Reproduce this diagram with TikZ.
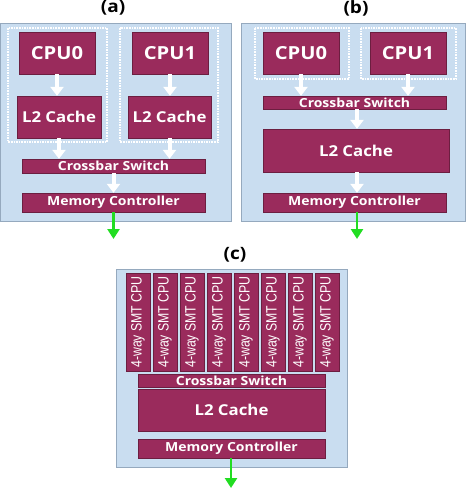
\documentclass[tikz,border=0pt]{standalone}
\usepackage{fontspec}
\setmainfont{Open Sans}
\newfontfamily\widefont[FakeStretch=1.12]{Open Sans}
\newfontfamily\narrowfont[FakeStretch=0.82]{Liberation Sans}
\usetikzlibrary{arrows.meta}
\definecolor{maroon}{HTML}{9A2B5C}
\definecolor{panelblue}{HTML}{C9DDF0}
\definecolor{panelline}{HTML}{95A9BE}
\definecolor{arrowgreen}{HTML}{22DD22}
\begin{document}
\begin{tikzpicture}[x=1pt,y=-1pt,
	panel/.style={fill=panelblue,draw=panelline,line width=0.8pt},
	group/.style={draw=white,densely dotted,line width=1.6pt},
	unit/.style={fill=maroon,draw=maroon!70!black,line width=0.3pt,text=white,inner sep=0pt},
	cpubox/.style={unit,minimum width=76pt,minimum height=42pt,font=\widefont\bfseries\fontsize{18}{18}\selectfont},
	cachebox/.style={cpubox,font=\widefont\bfseries\fontsize{15}{15}\selectfont},
	thinbar/.style={unit,font=\widefont\bfseries\fontsize{12.5}{12.5}\selectfont},
	smtbox/.style={unit,minimum width=98pt,minimum height=24pt,rotate=90,font=\narrowfont\fontsize{15}{15}\selectfont},
	warrow/.style={draw=white,line width=4pt,-{Triangle[width=13pt,length=9pt]}},
	garrow/.style={draw=arrowgreen,line width=2.6pt,-{Triangle[width=12pt,length=10pt]}},
	caption/.style={font=\widefont\bfseries\fontsize{17}{17}\selectfont}]

	\useasboundingbox (0,0) rectangle (474,489);

	% (a) private L2 per core
	\node [caption] (capa) at (113,8) {(a)};
	\draw [panel] (0.5,23) rectangle (231,221);
	\draw [group] (8,28) rectangle (107,142);
	\draw [group] (120,28) rectangle (218,142);
	\node [cpubox] (cpu0a) at (57,53) {CPU0};
	\node [cpubox] (cpu1a) at (170,53) {CPU1};
	\node [cachebox,minimum width=84pt] (l2a0) at (59,117) {L2 Cache};
	\node [cachebox,minimum width=83pt] (l2a1) at (169.5,117) {L2 Cache};
	\node [thinbar,minimum width=183pt,minimum height=14pt] (xbara) at (113.5,166) {Crossbar Switch};
	\node [thinbar,minimum width=183pt,minimum height=19pt] (mca) at (113.5,202.5) {Memory Controller};
	\coordinate (outa) at (113.5,239);

	\draw [warrow] (cpu0a.south) -- (cpu0a.south |- l2a0.north);
	\draw [warrow] (cpu1a.south) -- (cpu1a.south |- l2a1.north);
	\draw [warrow] (l2a0.south) -- (l2a0.south |- xbara.north);
	\draw [warrow] (l2a1.south) -- (l2a1.south |- xbara.north);
	\draw [warrow] (xbara.south) -- (mca.north);
	\draw [garrow] (mca.south) -- (outa);

	% (b) shared L2 behind the crossbar
	\node [caption] (capb) at (356,8) {(b)};
	\draw [panel] (241,23) rectangle (465,221);
	\draw [group] (255,28) rectangle (349,79);
	\draw [group] (361,28) rectangle (456,79);
	\node [cpubox] (cpu0b) at (301,53) {CPU0};
	\node [cpubox] (cpu1b) at (408,53) {CPU1};
	\node [thinbar,minimum width=183pt,minimum height=13pt] (xbarb) at (354.5,102.5) {Crossbar Switch};
	\node [cachebox,minimum width=186pt,minimum height=43pt] (l2b) at (356,150.5) {L2 Cache};
	\node [thinbar,minimum width=183pt,minimum height=19pt] (mcb) at (354.5,202.5) {Memory Controller};
	\coordinate (outb) at (357,239);

	\draw [warrow] (cpu0b.south) -- (cpu0b.south |- xbarb.north);
	\draw [warrow] (cpu1b.south) -- (cpu1b.south |- xbarb.north);
	\draw [warrow] (outb |- xbarb.south) -- (outb |- l2b.north);
	\draw [warrow] (outb |- l2b.south) -- (outb |- mcb.north);
	\draw [garrow] (outb |- mcb.south) -- (outb);

	% (c) eight SMT cores
	\node [caption] (capc) at (235,255) {(c)};
	\draw [panel] (116,269) rectangle (347,467);
	\foreach \i in {0,...,7}
		\node [smtbox] (smt\i) at (138+27*\i,322) {4-way SMT CPU};
	\node [thinbar,minimum width=187pt,minimum height=13pt] (xbarc) at (231.5,380.5) {Crossbar Switch};
	\node [cachebox,minimum width=187pt,minimum height=42pt] (l2c) at (231.5,410) {L2 Cache};
	\node [thinbar,minimum width=187pt,minimum height=19pt] (mcc) at (231.5,448.5) {Memory Controller};
	\coordinate (outc) at (231,488);

	\draw [garrow] (outc |- mcc.south) -- (outc);

\end{tikzpicture}
\end{document}
